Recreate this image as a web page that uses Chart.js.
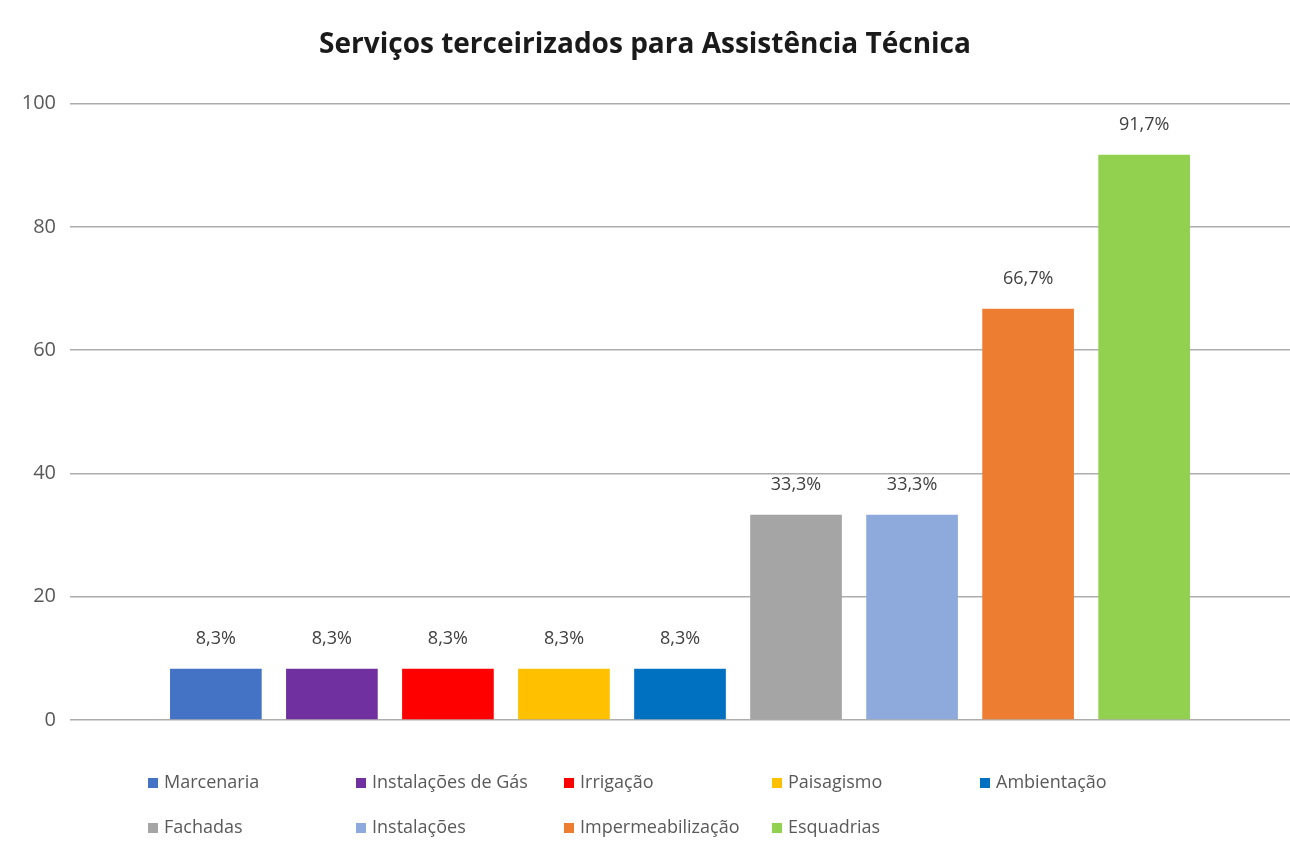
<!DOCTYPE html>
<html>
<head>
<meta charset="utf-8">
<script src="https://cdn.jsdelivr.net/npm/chart.js@4.4.1/dist/chart.umd.min.js"></script>
<style>
  html, body { margin: 0; padding: 0; background: #ffffff; }
  #wrap { width: 1290px; height: 850px; position: relative; }
</style>
</head>
<body>
<div id="wrap"><canvas id="c" width="1290" height="850"></canvas></div>
<script>
const categories = ['Marcenaria', 'Instalações de Gás', 'Irrigação', 'Paisagismo', 'Ambientação', 'Fachadas', 'Instalações', 'Impermeabilização', 'Esquadrias'];
const values = [8.3, 8.3, 8.3, 8.3, 8.3, 33.3, 33.3, 66.7, 91.7];
const colors = ['#4472C4', '#7030A0', '#FF0000', '#FFC000', '#0070C0', '#A5A5A5', '#8EA9DB', '#ED7D31', '#92D050'];
const yTicks = [0, 20, 40, 60, 80, 100];
const titleText = 'Serviços terceirizados para Assistência Técnica';

const FONT = "'Open Sans', 'Liberation Sans', sans-serif";

const datasets = categories.map((name, i) => ({
  label: name,
  data: [values[i]],
  backgroundColor: colors[i],
  borderWidth: 0,
  categoryPercentage: 0.856,
  barPercentage: 0.79
}));

const valueLabels = {
  id: 'valueLabels',
  afterDatasetsDraw(chart) {
    const ctx = chart.ctx;
    ctx.save();
    ctx.font = "18px " + FONT;
    ctx.fillStyle = '#404040';
    ctx.textAlign = 'center';
    ctx.textBaseline = 'middle';
    chart.data.datasets.forEach((ds, i) => {
      const meta = chart.getDatasetMeta(i);
      meta.data.forEach((el, j) => {
        const v = ds.data[j];
        const txt = v.toFixed(1).replace('.', ',') + '%';
        ctx.fillText(txt, el.x, el.y - 30);
      });
    });
    ctx.restore();
  }
};

const gridLegend = {
  id: 'gridLegend',
  afterDraw(chart) {
    const ctx = chart.ctx;
    ctx.save();
    ctx.font = "18px " + FONT;
    ctx.textBaseline = 'middle';
    ctx.textAlign = 'left';
    const startX = 148, colW = 208, rowYs = [783, 828], perRow = 5, box = 10, gap = 6;
    const n = chart.data.datasets.length;
    let x = startX;
    for (let i = 0; i < n; i++) {
      const row = Math.floor(i / perRow);
      if (i % perRow === 0) x = startX;
      const y = rowYs[row];
      const ds = chart.data.datasets[i];
      ctx.fillStyle = ds.backgroundColor;
      ctx.fillRect(x, y - box / 2, box, box);
      ctx.fillStyle = '#595959';
      ctx.fillText(ds.label, x + box + gap, y);
      const w = box + gap + ctx.measureText(ds.label).width;
      x = (w + 8 > colW) ? x + w + 8 : x + colW;
    }
    ctx.restore();
  }
};

new Chart(document.getElementById('c'), {
  type: 'bar',
  data: { labels: [''], datasets },
  options: {
    responsive: false,
    animation: false,
    layout: { padding: { left: 0, right: 0, top: 0, bottom: 130 } },
    plugins: {
      legend: { display: false },
      tooltip: { enabled: false },
      title: {
        display: true,
        text: titleText,
        color: '#1a1a1a',
        font: { family: FONT, size: 28, weight: 'bold', lineHeight: 1.2 },
        padding: { top: 28, bottom: 42 }
      }
    },
    scales: {
      x: { display: false },
      y: {
        min: 0, max: 100,
        afterBuildTicks(scale) { scale.ticks = yTicks.map(v => ({ value: v })); },
        afterFit(scale) { scale.width = 70; },
        border: { display: false },
        grid: { color: '#adadad', lineWidth: 1.5, drawTicks: false },
        ticks: { color: '#595959', padding: 14, font: { family: FONT, size: 20 } }
      }
    }
  },
  plugins: [valueLabels, gridLegend]
});
</script>
</body>
</html>
